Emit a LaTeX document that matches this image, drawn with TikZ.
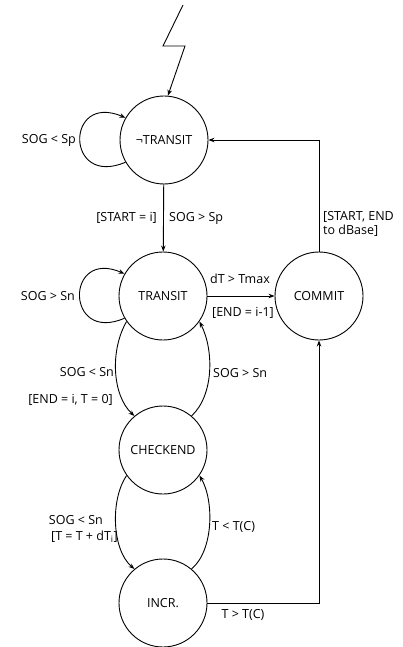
\documentclass[tikz,border=0pt]{standalone}
\usepackage{fontspec}
\setmainfont{Open Sans}
\usetikzlibrary{arrows.meta}
\begin{document}
\begin{tikzpicture}[x=1pt,y=1pt,
  state/.style={circle,draw,line width=0.9pt,minimum size=88pt,inner sep=0pt,font=\fontsize{12.5}{14}\selectfont},
  arr/.style={line width=0.9pt,-{Stealth[length=6pt,width=4.5pt]}},
  lbl/.style={font=\fontsize{12.5}{14}\selectfont,inner sep=1pt}]
\useasboundingbox (0,-647) rectangle (402,0);
\node[state] (nt) at (164,-140) {¬TRANSIT};
\node[state] (tr) at (163,-296) {TRANSIT};
\node[state] (cm) at (319,-296) {COMMIT};
\node[state] (ce) at (163,-450) {CHECKEND};
\node[state] (in) at (163,-603) {INCR.};
% lightning
\coordinate (b0) at (183,-5);
\coordinate (b1) at (163,-46);
\coordinate (b2) at (185,-46);
\draw[arr] (b0) -- (b1) -- (b2) -- (nt.85);
% self loops
\draw[arr] (nt.210) .. controls (65,-188) and (65,-92) .. (nt.150);
\node[lbl,anchor=east] (l1) at (77,-140) {SOG < Sp};
\draw[arr] (tr.210) .. controls (65,-344) and (65,-248) .. (tr.150);
\node[lbl,anchor=east] (l2) at (76,-296) {SOG > Sn};
% nt -> tr
\draw[arr] (nt) -- (tr);
\node[lbl,anchor=east] (l3) at (158,-218) {[START = i]};
\node[lbl,anchor=west] (l4) at (168,-218) {SOG > Sp};
% tr -> cm
\draw[arr] (tr) -- (cm);
\node[lbl] (l5) at (240,-279) {dT > Tmax};
\node[lbl] (l6) at (243,-313) {[END = i-1]};
% cm -> nt
\draw[arr] (cm.north) |- (nt.east);
\node[lbl,anchor=north west,align=left] (l7) at (322,-210) {[START, END\\to dBase]};
% tr <-> ce
\draw[arr] (tr.215) .. controls (110,-350) and (112,-395) .. (ce.130);
\draw[arr] (ce.50) .. controls (214,-395) and (214,-350) .. (tr.-35);
\node[lbl,anchor=east] (l8) at (115,-372) {SOG < Sn};
\node[lbl,anchor=east] (l9) at (114,-400) {[END = i, T = 0]};
\node[lbl,anchor=west] (l10) at (212,-373) {SOG > Sn};
% ce <-> in
\draw[arr] (ce.215) .. controls (110,-500) and (112,-550) .. (in.130);
\draw[arr] (in.50) .. controls (214,-550) and (214,-500) .. (ce.-35);
\node[lbl,anchor=east] (l11) at (104,-520) {SOG < Sn};
\node[lbl,anchor=east] (l12) at (119,-537) {[T = T + dT\textsubscript{i}]};
\node[lbl,anchor=west] (l13) at (211,-527) {T < T(C)};
% in -> cm
\draw[arr] (in.east) -| (cm.south);
\node[lbl] (l14) at (243,-615) {T > T(C)};
\end{tikzpicture}
\end{document}
